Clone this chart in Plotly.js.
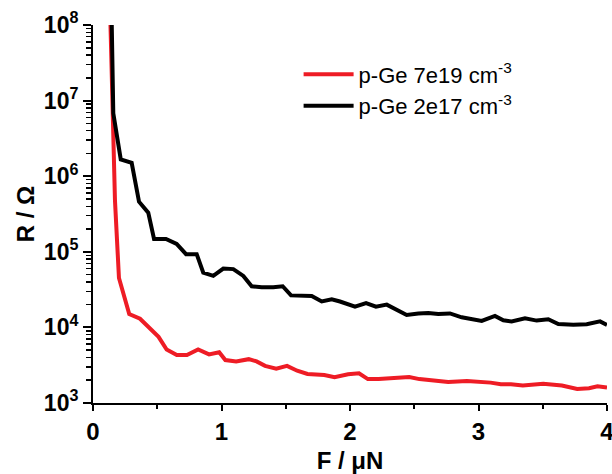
<!DOCTYPE html>
<html>
<head>
<meta charset="utf-8">
<script src="https://cdn.plot.ly/plotly-3.0.1.min.js"></script>
<style>html,body{margin:0;padding:0;background:#fff}#chart{width:612px;height:474px}</style>
</head>
<body>
<div id="chart"></div>
<script>
// p-Ge 7e19 cm^-3 (red)
const forceRed = [0.136,0.171,0.202,0.282,0.366,0.444,0.51,0.573,0.652,0.731,0.818,0.903,0.982,1.03,1.114,1.212,1.273,1.339,1.426,1.51,1.589,1.669,1.75,1.80,1.88,1.985,2.07,2.139,2.223,2.30,2.381,2.461,2.54,2.659,2.764,2.91,3.015,3.094,3.174,3.253,3.345,3.504,3.649,3.768,3.86,3.926,4.0];
const resRed = [1e8,4.8e5,4.5e4,1.5e4,1.3e4,9.5e3,7.5e3,5.1e3,4.3e3,4.3e3,5.1e3,4.4e3,4.7e3,3.7e3,3.55e3,3.8e3,3.55e3,3.1e3,2.85e3,3.1e3,2.67e3,2.42e3,2.35e3,2.35e3,2.19e3,2.4e3,2.47e3,2.07e3,2.07e3,2.12e3,2.12e3,2.2e3,2.07e3,2.0e3,1.9e3,1.95e3,1.9e3,1.86e3,1.77e3,1.77e3,1.7e3,1.8e3,1.7e3,1.53e3,1.57e3,1.66e3,1.6e3];

// p-Ge 2e17 cm^-3 (black)
const forceBlack = [0.146,0.158,0.216,0.301,0.358,0.430,0.475,0.568,0.651,0.724,0.807,0.858,0.936,1.014,1.092,1.170,1.235,1.313,1.403,1.476,1.541,1.624,1.702,1.780,1.858,1.922,2.039,2.125,2.202,2.286,2.350,2.441,2.532,2.609,2.687,2.778,2.869,2.947,3.025,3.128,3.193,3.258,3.362,3.453,3.543,3.621,3.738,3.842,3.946,4.0];
const resBlack = [1e8,6.8e6,1.67e6,1.5e6,4.6e5,3.3e5,1.48e5,1.48e5,1.27e5,9.3e4,9.3e4,5.3e4,4.8e4,6.0e4,5.9e4,4.8e4,3.5e4,3.4e4,3.4e4,3.5e4,2.65e4,2.6e4,2.6e4,2.2e4,2.35e4,2.2e4,1.88e4,2.1e4,1.88e4,2.0e4,1.74e4,1.46e4,1.53e4,1.55e4,1.5e4,1.53e4,1.36e4,1.3e4,1.22e4,1.42e4,1.24e4,1.2e4,1.32e4,1.23e4,1.28e4,1.11e4,1.08e4,1.1e4,1.2e4,1.08e4];

const seriesNames = ['p-Ge 7e19 cm<sup>-3</sup>', 'p-Ge 2e17 cm<sup>-3</sup>'];
const yTickVals = [1e3,1e4,1e5,1e6,1e7,1e8];
const yTickText = ['10<sup>3</sup>','10<sup>4</sup>','10<sup>5</sup>','10<sup>6</sup>','10<sup>7</sup>','10<sup>8</sup>'];
const xTickVals = [0,1,2,3,4];

const yMinor = [];
for (let e = 3; e < 8; e++) for (let d = 2; d <= 9; d++) yMinor.push(d * Math.pow(10, e));

const FONT = 'Liberation Sans, Arial, sans-serif';

const traces = [
  {x: forceRed, y: resRed, type: 'scatter', mode: 'lines', name: seriesNames[0],
   line: {color: '#ee1c25', width: 4}},
  {x: forceBlack, y: resBlack, type: 'scatter', mode: 'lines', name: seriesNames[1],
   line: {color: '#000000', width: 4}}
];

const layout = {
  width: 612, height: 474,
  margin: {l: 93, r: 5, t: 25, b: 71},
  paper_bgcolor: '#fff', plot_bgcolor: '#fff',
  showlegend: true,
  legend: {x: 0.40, y: 0.925, xanchor: 'left', yanchor: 'top',
           font: {family: FONT, size: 22, color: '#000'},
           bgcolor: 'rgba(0,0,0,0)', traceorder: 'normal', itemwidth: 50},
  xaxis: {
    range: [0, 4], showline: true, linecolor: '#000', linewidth: 2,
    showgrid: false, zeroline: false, ticks: 'outside', ticklen: 6, tickwidth: 2, tickcolor: '#000',
    tickmode: 'array', tickvals: xTickVals, ticklabeloverflow: 'allow',
    minor: {ticks: 'outside', ticklen: 4, tickwidth: 2, tickcolor: '#000', dtick: 0.5, showgrid: false},
    tickfont: {family: FONT, size: 24, color: '#000', weight: 'bold'},
    title: {text: 'F / \u03bcN', font: {family: FONT, size: 24, color: '#000', weight: 'bold'}, standoff: 14}
  },
  yaxis: {
    type: 'log', range: [3, 8], showline: true, linecolor: '#000', linewidth: 2,
    showgrid: false, zeroline: false, ticks: 'outside', ticklen: 8, tickwidth: 2, tickcolor: '#000',
    tickmode: 'array', tickvals: yTickVals, ticktext: yTickText, ticklabeloverflow: 'allow',
    minor: {ticks: 'outside', ticklen: 5, tickwidth: 1.5, tickcolor: '#000', tickmode: 'array', tickvals: yMinor, showgrid: false},
    tickfont: {family: FONT, size: 23, color: '#000', weight: 'bold'},
    title: {text: 'R / \u03a9', font: {family: FONT, size: 24, color: '#000', weight: 'bold'}, standoff: 2}
  }
};

Plotly.newPlot('chart', traces, layout, {displayModeBar: false, staticPlot: true});
</script>
</body>
</html>
